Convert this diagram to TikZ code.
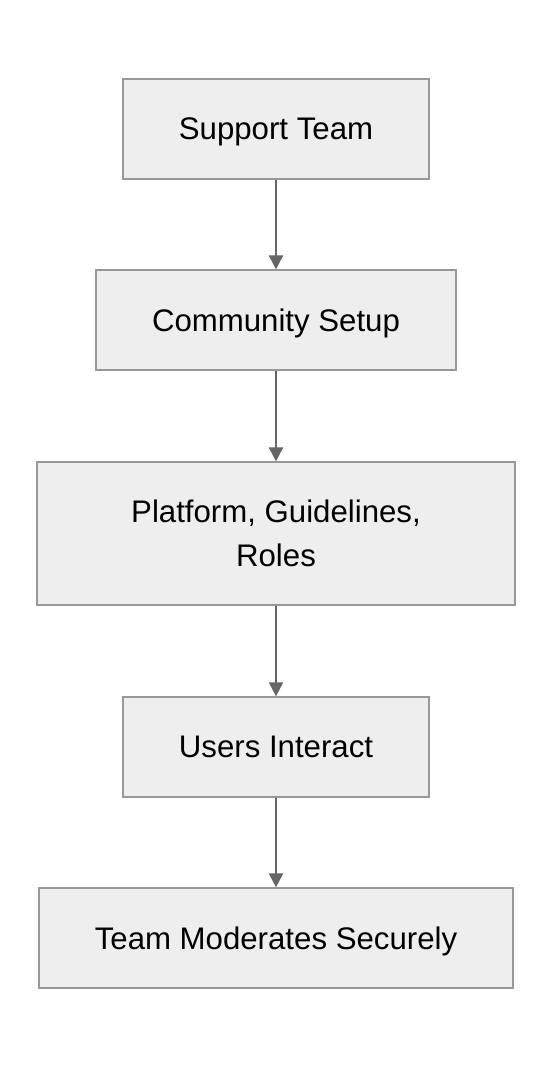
\documentclass[tikz,border=0pt]{standalone}
\usepackage{fontspec}
\setmainfont{Liberation Sans}
\usetikzlibrary{arrows.meta}
\definecolor{boxfill}{HTML}{EEEEEE}
\definecolor{boxline}{HTML}{999999}
\definecolor{arrowc}{HTML}{666666}
\begin{document}
\begin{tikzpicture}[x=0.5pt,y=-0.5pt,
  flowbox/.style={draw=boxline, fill=boxfill, line width=0.6pt, inner sep=0pt,
    font=\fontsize{15.6}{22}\selectfont, align=center, text depth=0pt},
  flowarrow/.style={draw=arrowc, line width=1pt, -{Triangle[width=7pt,length=7pt]}}]
\useasboundingbox (0,0) rectangle (552,1068);
\node[flowbox, minimum width=153pt, minimum height=50pt] (a) at (276,129) {Support Team};
\node[flowbox, minimum width=180pt, minimum height=50pt] (b) at (276,320) {Community Setup};
\node[flowbox, minimum width=239pt, minimum height=71.5pt] (c) at (276,533.5) {Platform, Guidelines,\\Roles};
\node[flowbox, minimum width=153pt, minimum height=50pt] (d) at (276,747) {Users Interact};
\node[flowbox, minimum width=237pt, minimum height=50pt] (e) at (276,938) {Team Moderates Securely};
\draw[flowarrow] (a) -- (b);
\draw[flowarrow] (b) -- (c);
\draw[flowarrow] (c) -- (d);
\draw[flowarrow] (d) -- (e);
\end{tikzpicture}
\end{document}
